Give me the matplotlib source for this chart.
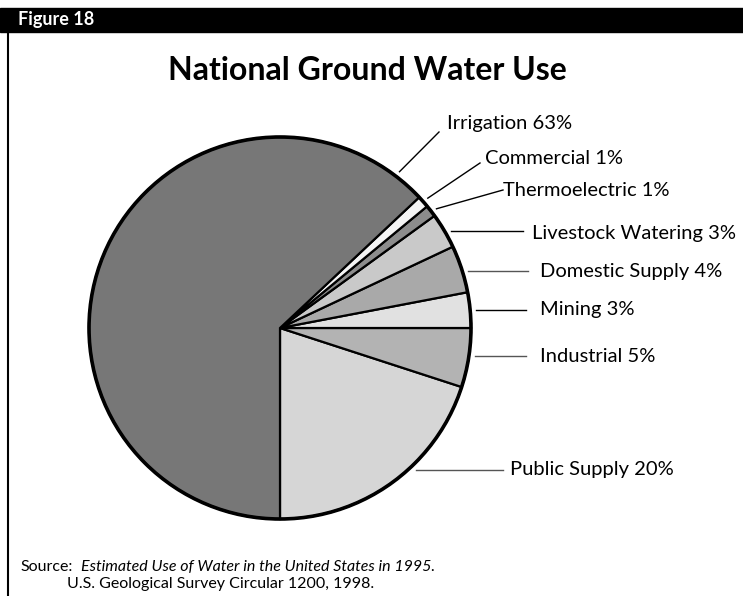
import matplotlib.pyplot as plt
import numpy as np

# data, counterclockwise from the bottom of the pie
categories = ["Public Supply", "Industrial", "Mining", "Domestic Supply",
              "Livestock Watering", "Thermoelectric", "Commercial", "Irrigation"]
shares = [20, 5, 3, 4, 3, 1, 1, 63]
greys = ["#d6d6d6", "#b3b3b3", "#e1e1e1", "#a9a9a9",
         "#c9c9c9", "#8c8c8c", "#f4f4f4", "#777777"]

# label layout (pixels, y measured from the top)
anchor_deg = [None, None, None, None, None, 37.3, 41.3, 52.6]  # None = flat leader
line_end = [(503, 470), (526, 356), (526, 310), (528, 271),
            (523, 231), (503, 190), (480, 163), (439, 132)]
text_pos = [(510, 470), (540, 356), (540, 310), (540, 271),
            (532, 233), (503, 190), (485, 158), (447, 123)]
line_col = ["#555555", "#555555", "black", "#555555",
            "black", "black", "black", "black"]

W, H = 743, 596
cx, cy, r = 280, 328, 191

fig = plt.figure(figsize=(W / 100, H / 100), dpi=100)
ax = fig.add_axes([0, 0, 1, 1])

wedges, _ = ax.pie(shares, colors=greys, startangle=-90, counterclock=True,
                   center=(cx, H - cy), radius=r,
                   wedgeprops=dict(edgecolor="black", linewidth=1.6))
ax.add_patch(plt.Circle((cx, H - cy), r, fill=False, ec="black", lw=2.6))

ra = 1.03 * r
for name, pct, ang, (ex, ey), (tx, ty), lc in zip(categories, shares, anchor_deg,
                                                   line_end, text_pos, line_col):
    if ang is None:
        dy = cy - ey
        sx, sy = cx + np.sqrt(ra ** 2 - dy ** 2), H - ey
    else:
        a = np.deg2rad(ang)
        sx, sy = cx + ra * np.cos(a), (H - cy) + ra * np.sin(a)
    ax.plot([sx, ex], [sy, H - ey], color=lc, lw=1.0)
    ax.text(tx, H - ty, f"{name} {pct}%", fontsize=14.5, family="Lato",
            ha="left", va="center")

ax.set_xlim(0, W)
ax.set_ylim(0, H)
ax.set_aspect("equal")
ax.axis("off")

# header bar and left rule
ax.add_patch(plt.Rectangle((0, H - 32), W, 24, color="black"))
ax.text(18, H - 20, "Figure 18", color="white", fontsize=13, weight="bold",
        family="Lato", ha="left", va="center")
ax.plot([8, 8], [0, H - 32], color="black", lw=1.5)

ax.text(367, H - 70, "National Ground Water Use", fontsize=23, weight="bold",
        family="Lato", ha="center", va="center")

ax.text(20, H - 567, "Source:", fontsize=11.5, family="Lato",
        ha="left", va="center")
ax.text(81, H - 567, "Estimated Use of Water in the United States in 1995.",
        fontsize=11.5, family="Lato", style="italic",
        ha="left", va="center")
ax.text(67, H - 584, "U.S. Geological Survey Circular 1200, 1998.",
        fontsize=11.5, family="Lato", ha="left", va="center")

fig.savefig("out.png", dpi=100)
